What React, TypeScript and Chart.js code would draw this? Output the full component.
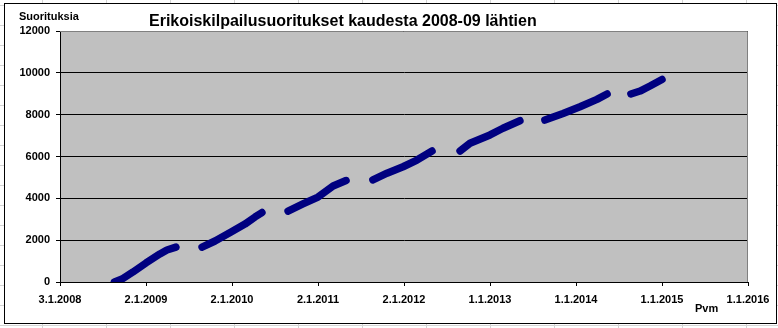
import React, { useEffect, useRef } from "react";
import { Chart, registerables } from "chart.js";

Chart.register(...registerables);

// ---- data ----
const chartTitle = "Erikoiskilpailusuoritukset kaudesta 2008-09 lähtien";
const yAxisTitle = "Suorituksia";
const xAxisTitle = "Pvm";
const baseDate = "2008-01-03";
const xTickLabels = ["3.1.2008", "2.1.2009", "2.1.2010", "2.1.2011", "2.1.2012", "1.1.2013", "1.1.2014", "1.1.2015", "1.1.2016"];
const yTicks = [0, 2000, 4000, 6000, 8000, 10000, 12000];

const season0809Dates = ["2008-08-21", "2008-09-22", "2008-11-08", "2009-01-02", "2009-03-02", "2009-04-01", "2009-05-09"];
const season0809Values = [0, 140, 480, 910, 1340, 1530, 1670];
const season0910Dates = ["2009-08-28", "2009-10-22", "2009-12-29", "2010-02-26", "2010-04-10", "2010-05-09"];
const season0910Values = [1670, 1960, 2390, 2770, 3110, 3320];
const season1011Dates = ["2010-08-28", "2010-10-30", "2011-01-02", "2011-03-07", "2011-05-01"];
const season1011Values = [3390, 3730, 4060, 4590, 4850];
const season1112Dates = ["2011-08-23", "2011-10-22", "2011-12-29", "2012-02-26", "2012-04-30"];
const season1112Values = [4880, 5200, 5510, 5830, 6260];
const season1213Dates = ["2012-08-27", "2012-10-08", "2013-01-01", "2013-02-25", "2013-05-08"];
const season1213Values = [6260, 6630, 7030, 7350, 7710];
const season1314Dates = ["2013-08-22", "2013-11-07", "2014-01-18", "2014-03-31", "2014-05-13"];
const season1314Values = [7740, 8060, 8380, 8730, 8990];
const season1415Dates = ["2014-08-22", "2014-09-30", "2014-11-11", "2015-01-01"];
const season1415Values = [8990, 9130, 9370, 9680];

const seasons: [string[], number[]][] = [
  [season0809Dates, season0809Values],
  [season0910Dates, season0910Values],
  [season1011Dates, season1011Values],
  [season1112Dates, season1112Values],
  [season1213Dates, season1213Values],
  [season1314Dates, season1314Values],
  [season1415Dates, season1415Values],
];

const toUtc = (iso: string) => {
  const [y, m, d] = iso.split("-").map(Number);
  return Date.UTC(y, m - 1, d);
};
const dayOffset = (iso: string) => Math.round((toUtc(iso) - toUtc(baseDate)) / 86400000);

const FONT = '"Liberation Sans", Arial, sans-serif';
const W = 778;
const H = 328;

const decor = {
  id: "decor",
  beforeDraw(chart: any) {
    const ctx = chart.ctx;
    const a = chart.chartArea;
    ctx.save();
    ctx.fillStyle = "#ffffff";
    ctx.fillRect(0, 0, W, H);
    // spreadsheet cell lines behind the chart object
    ctx.strokeStyle = "#d4d4d4";
    ctx.lineWidth = 1;
    ctx.beginPath();
    for (let x = 42; x < W; x += 64) {
      ctx.moveTo(x + 0.5, 0);
      ctx.lineTo(x + 0.5, H);
    }
    for (let y = 5; y < H; y += 20) {
      ctx.moveTo(0, y + 0.5);
      ctx.lineTo(W, y + 0.5);
    }
    ctx.stroke();
    // chart frame
    ctx.fillStyle = "#ffffff";
    ctx.fillRect(4, 3, 773, 321);
    ctx.strokeStyle = "#000000";
    ctx.strokeRect(4.5, 3.5, 772, 320);
    // plot area
    ctx.fillStyle = "#c0c0c0";
    ctx.fillRect(a.left, a.top, a.right - a.left, a.bottom - a.top);
    ctx.restore();
  },
  afterDraw(chart: any) {
    const ctx = chart.ctx;
    const a = chart.chartArea;
    ctx.save();
    ctx.strokeStyle = "#808080";
    ctx.lineWidth = 1;
    ctx.beginPath();
    ctx.moveTo(a.left, a.top + 0.5);
    ctx.lineTo(a.right - 0.5, a.top + 0.5);
    ctx.lineTo(a.right - 0.5, a.bottom);
    ctx.stroke();
    ctx.fillStyle = "#000000";
    ctx.textBaseline = "alphabetic";
    ctx.textAlign = "left";
    ctx.font = `bold 16px ${FONT}`;
    ctx.fillText(chartTitle, 149, 26);
    ctx.font = `bold 11px ${FONT}`;
    ctx.fillText(yAxisTitle, 19, 20);
    ctx.fillText(xAxisTitle, 695, 312);
    ctx.restore();
  },
};

export default function App() {
  const ref = useRef<HTMLCanvasElement | null>(null);
  useEffect(() => {
    document.body.style.margin = "0";
    const canvas = ref.current!;
    const datasets = seasons.map(([dates, values]) => ({
      data: dates.map((d, i) => ({ x: dayOffset(d), y: values[i] })),
      borderColor: "#000080",
      backgroundColor: "#000080",
      borderWidth: 7.5,
      borderCapStyle: "round" as const,
      borderJoinStyle: "round" as const,
      pointRadius: 0,
      tension: 0,
      fill: false,
    }));
    const maxDay = 365 * (xTickLabels.length - 1);
    const chart = new Chart(canvas, {
      type: "line",
      data: { datasets },
      plugins: [decor],
      options: {
        animation: false,
        responsive: false,
        devicePixelRatio: 1,
        layout: { padding: { top: 31, right: 30, left: 0, bottom: 0 } },
        plugins: { legend: { display: false }, tooltip: { enabled: false }, title: { display: false } },
        scales: {
          x: {
            type: "linear",
            min: 0,
            max: maxDay,
            afterBuildTicks: (scale: any) => {
              scale.ticks = xTickLabels.map((_, i) => ({ value: i * 365 }));
            },
            afterFit: (scale: any) => {
              scale.height = 46;
            },
            ticks: {
              autoSkip: false,
              maxRotation: 0,
              color: "#000",
              padding: 7,
              font: { family: FONT, size: 11, weight: "bold" },
              callback: (_v: any, i: number) => xTickLabels[i],
            },
            grid: { drawOnChartArea: false, tickLength: 4, color: "#000" },
            border: { color: "#000", width: 1 },
          },
          y: {
            type: "linear",
            min: yTicks[0],
            max: yTicks[yTicks.length - 1],
            afterBuildTicks: (scale: any) => {
              scale.ticks = yTicks.map((v) => ({ value: v }));
            },
            afterFit: (scale: any) => {
              scale.width = 60;
            },
            ticks: {
              color: "#000",
              padding: 6,
              font: { family: FONT, size: 11, weight: "bold" },
              callback: (v: any) => String(v),
            },
            grid: { color: "#000", tickLength: 4 },
            border: { color: "#000", width: 1 },
          },
        },
      },
    });
    return () => chart.destroy();
  }, []);
  return (
    <div style={{ position: "relative", width: W, height: H }}>
      <canvas ref={ref} width={W} height={H} style={{ display: "block" }} />
    </div>
  );
}
